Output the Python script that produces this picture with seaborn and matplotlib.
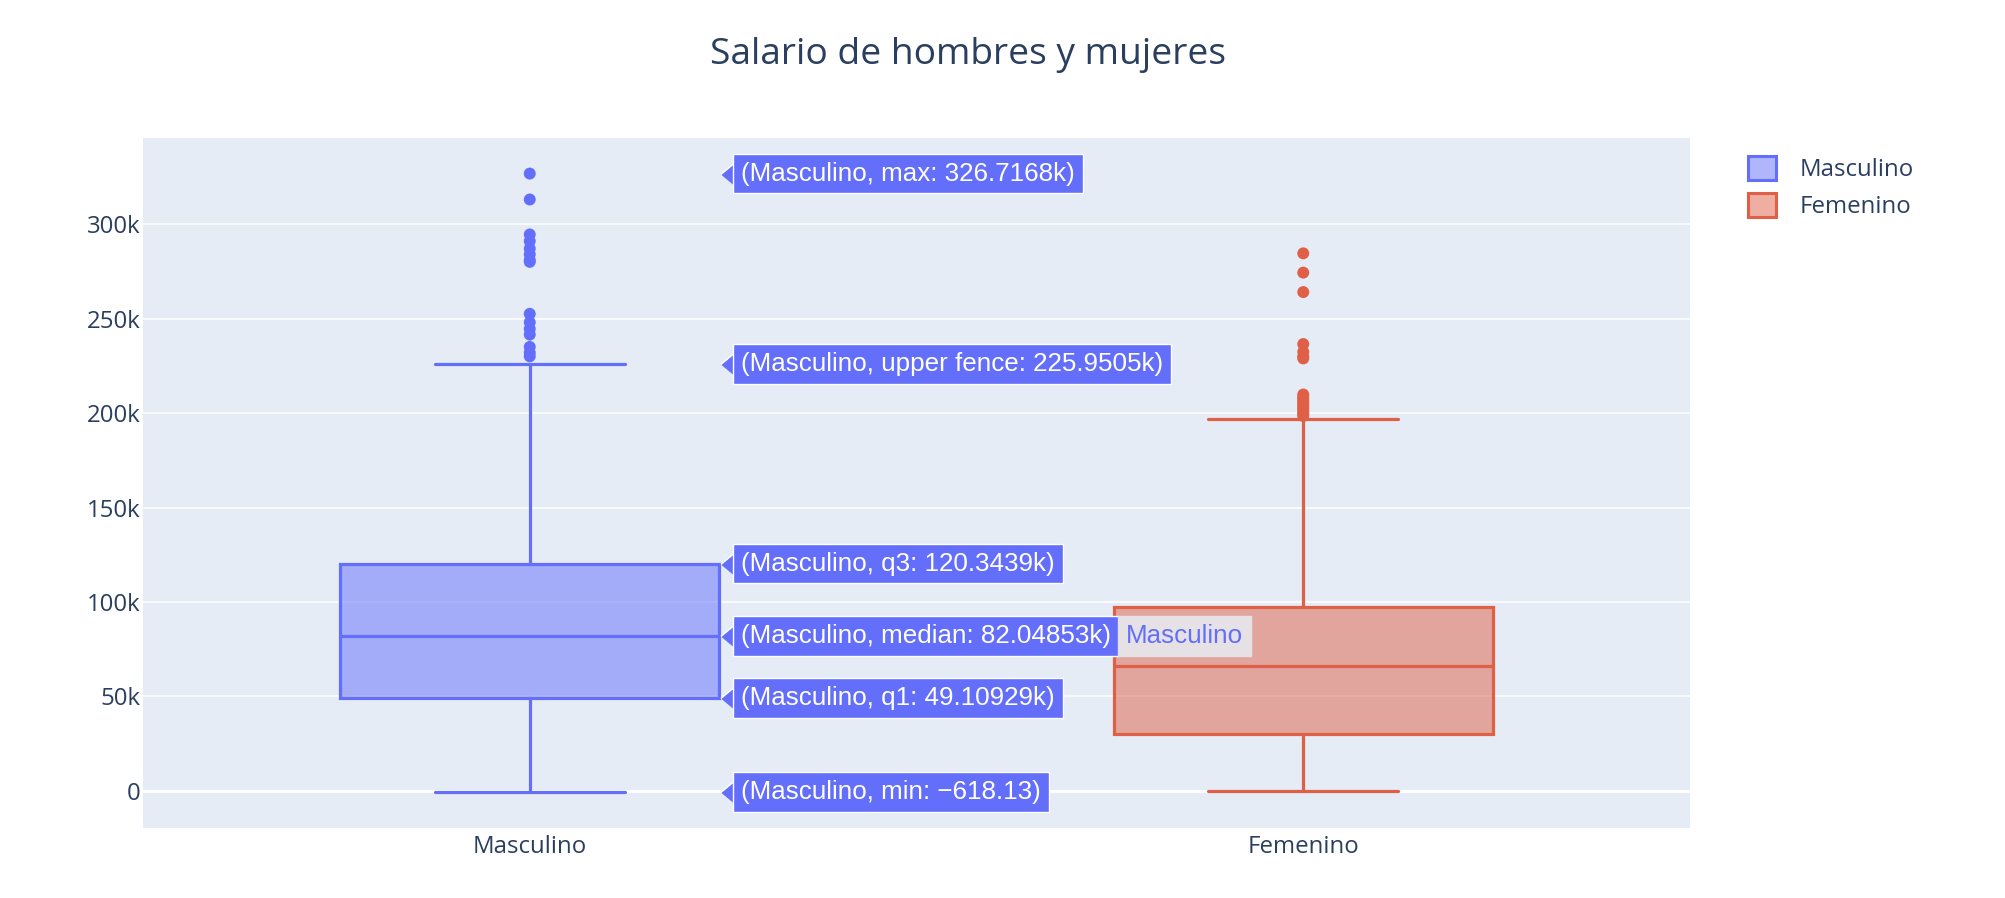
import pandas as pd
import matplotlib.pyplot as plt
import seaborn as sns
from matplotlib.patches import Patch
from matplotlib.colors import to_rgb

# datos (salario en dolares)
categorias = ["Masculino", "Femenino"]
q1 = [49109.29, 30000]
mediana = [82048.53, 66100]
q3 = [120343.9, 97200]
minimo = [-618.13, 100]
cerca_sup = [225950.5, 196700]

atipicos_masc = [326716.8, 313000, 294500, 291000, 287000, 284000, 281000, 280000,
                 252500, 248000, 244500, 241500, 235000, 232000, 230000]
atipicos_fem = [284500, 274300, 264000, 236500, 232400, 230000, 228900,
                209800, 208500, 207300, 206200, 205000, 203900, 202700,
                201500, 200400, 199300, 198400]

# etiquetas de hover (Masculino)
hover_claves = ["max", "upper fence", "q3", "median", "q1", "min"]
hover_textos = ["326.7168k", "225.9505k", "120.3439k", "82.04853k", "49.10929k", "\u2212618.13"]
hover_valores = [326716.8, 225950.5, 120343.9, 82048.53, 49109.29, -618.13]

colores = ["#636efa", "#E05F47"]
texto_color = "#2a3f5f"

sns.set_theme(style="darkgrid", rc={"axes.facecolor": "#E5ECF6", "grid.color": "white",
                                    "grid.linewidth": 1.1})
plt.rcParams["font.family"] = ["Open Sans", "DejaVu Sans"]

fig = plt.figure(figsize=(20.06, 8.98), dpi=100)
ax = fig.add_axes([143 / 2006, 1 - 828 / 898, (1690 - 143) / 2006, (828 - 137.7) / 898])

df = pd.DataFrame({
    "sexo": ["Masculino"] * len(atipicos_masc) + ["Femenino"] * len(atipicos_fem),
    "salario": atipicos_masc + atipicos_fem,
})
sns.stripplot(data=df, x="sexo", y="salario", hue="sexo", order=categorias,
              palette=colores, jitter=False, size=8.6, linewidth=0, legend=False,
              ax=ax, zorder=3)

stats = []
for i, c in enumerate(categorias):
    stats.append(dict(label=c, q1=q1[i], med=mediana[i], q3=q3[i],
                      whislo=minimo[i], whishi=cerca_sup[i], fliers=[]))
bp = ax.bxp(stats, positions=[0, 1], widths=0.49, capwidths=0.245,
            patch_artist=True, showfliers=False, manage_ticks=False)
for i, col in enumerate(colores):
    bp["boxes"][i].set(facecolor=(*to_rgb(col), 0.5), edgecolor=col, linewidth=2.3)
    bp["medians"][i].set(color=col, linewidth=2.3)
    for k in (2 * i, 2 * i + 1):
        bp["whiskers"][k].set(color=col, linewidth=2.3)
        bp["caps"][k].set(color=col, linewidth=2.3)

ax.axhline(0, color="white", linewidth=2.2, zorder=1)
ax.set_xlim(-0.5, 1.5)
ax.set_ylim(-19600, 345700)
ax.set_xticks([0, 1])
ax.set_xticklabels(categorias)
ax.set_yticks([0, 50000, 100000, 150000, 200000, 250000, 300000])
ax.set_yticklabels(["0", "50k", "100k", "150k", "200k", "250k", "300k"])
ax.tick_params(labelsize=17.3, labelcolor=texto_color, length=0)
ax.tick_params(axis="x", pad=5)
ax.tick_params(axis="y", pad=2)
ax.xaxis.grid(False)
ax.set_xlabel("")
ax.set_ylabel("")
for s in ax.spines.values():
    s.set_visible(False)

# etiquetas tipo hover
flecha = [(-0.6, 0), (0.6, 1), (0.6, -1)]
for clave, txt, val in zip(hover_claves, hover_textos, hover_valores):
    ax.plot([0.2544], [val], marker=flecha, markersize=15.8, color=colores[0],
            markeredgecolor="white", markeredgewidth=1, zorder=5, clip_on=False)
    a = ax.annotate(f"(Masculino, {clave}: {txt})", xy=(0.25, val), xytext=(18, 0),
                    textcoords="offset pixels", ha="left", va="center",
                    fontsize=18.7, color="white", family=["Liberation Sans", "DejaVu Sans"],
                    bbox=dict(boxstyle="square,pad=0.3", fc=colores[0], ec="white", lw=1),
                    zorder=6)
    if clave == "median":
        ax.annotate("Masculino", xy=(1, 0.5), xycoords=a, xytext=(15, 0),
                    textcoords="offset pixels", ha="left", va="center",
                    fontsize=18.7, color=colores[0], family=["Liberation Sans", "DejaVu Sans"],
                    bbox=dict(boxstyle="square,pad=0.3", fc="#e6e1e4", ec="#e6e1e4", lw=1),
                    zorder=6)

fig.text(968 / 2006, 1 - 55 / 898, "Salario de hombres y mujeres", ha="center", va="center",
         fontsize=26.7, color=texto_color)

handles = [Patch(facecolor=(*to_rgb(c), 0.5), edgecolor=c, linewidth=2.2) for c in colores]
fig.legend(handles, categorias, loc="upper left", bbox_to_anchor=(1748 / 2006, 0.826),
           frameon=False, fontsize=17.3, handlelength=1.15, handleheight=1.15,
           handletextpad=1.0, labelspacing=0.45, borderpad=0, borderaxespad=0,
           labelcolor=texto_color)

fig.savefig("out.png", dpi=100)
